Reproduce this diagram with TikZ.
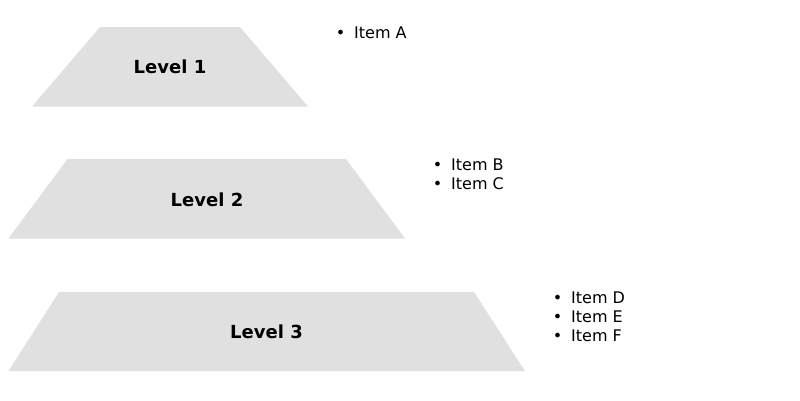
\documentclass[tikz,border=0pt]{standalone}
\usepackage{fontspec}
\setmainfont{DejaVu Sans}
\definecolor{levelgray}{HTML}{E0E0E0}
\begin{document}
\begin{tikzpicture}[x=1pt,y=-1pt,
  level/.style={fill=levelgray,draw=none},
  levellabel/.style={anchor=base,inner sep=0pt,font=\fontsize{18}{21}\selectfont\bfseries},
  item/.style={anchor=base west,inner sep=0pt,font=\fontsize{16}{19}\selectfont}]
\useasboundingbox (0,0) rectangle (800,400);
% level 1
\fill[level] (100,27) -- (240,27) -- (308,106.5) -- (32,106.5) -- cycle;
\node[levellabel] (l1) at (170,73) {Level 1};
% level 2
\fill[level] (67.5,159) -- (346,159) -- (405,238.5) -- (8.5,238.5) -- cycle;
\node[levellabel] (l2) at (207,206) {Level 2};
% level 3
\fill[level] (59,292) -- (474,292) -- (525,371) -- (8.5,371) -- cycle;
\node[levellabel] (l3) at (266.5,338) {Level 3};
% items
\node[item] (ia) at (354,38) {\llap{•\hspace{9pt}}Item A};
\node[item] (ib) at (451,170) {\llap{•\hspace{9pt}}Item B};
\node[item] (ic) at (451,189) {\llap{•\hspace{9pt}}Item C};
\node[item] (id) at (571,303) {\llap{•\hspace{9pt}}Item D};
\node[item] (ie) at (571,322) {\llap{•\hspace{9pt}}Item E};
\node[item] (if) at (571,341) {\llap{•\hspace{9pt}}Item F};
\end{tikzpicture}
\end{document}
